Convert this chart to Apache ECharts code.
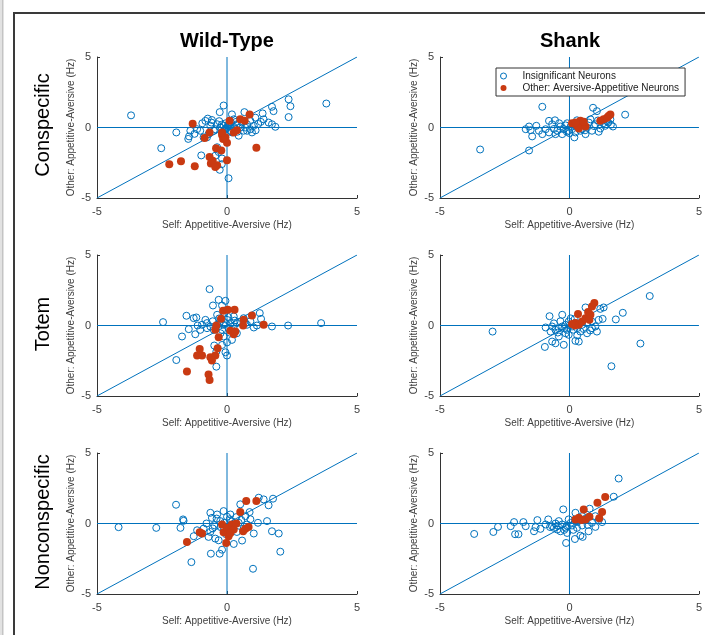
<!DOCTYPE html>
<html>
<head>
<meta charset="utf-8">
<script src="https://cdn.jsdelivr.net/npm/echarts@6/dist/echarts.min.js"></script>
<style>
html,body{margin:0;padding:0;background:#fff;}
#chart{width:705px;height:635px;}
</style>
</head>
<body>
<div id="chart"></div>
<script>
// ---------- DATA ----------
const columnTitles = ['Wild-Type', 'Shank'];
const rowTitles = ['Conspecific', 'Totem', 'Nonconspecific'];
const xAxisName = 'Self: Appetitive-Aversive (Hz)';
const yAxisName = 'Other: Appetitive-Aversive (Hz)';
const legendNames = ['Insignificant Neurons', 'Other: Aversive-Appetitive Neurons'];
const axisMin = -5, axisMax = 5, axisStep = 5;

// reference lines
const refHorizontal = [[-5, 0], [5, 0]];
const refVertical = [[0, -5], [0, 5]];
const refDiagonal = [[-5, -5], [5, 5]];

// Wild-Type, Conspecific
const wtConBlue = [[-3.69,0.86],[-2.53,-1.47],[-1.95,-0.35],[-1.49,-0.81],[-1.46,-0.63],[-1.41,-0.23],[-1.15,-0.12],[-0.99,-1.98],[-0.83,0.47],[-0.74,0.63],[-0.64,0.12],[-0.58,0.53],[-0.45,-0.12],[-0.28,1.09],[-0.13,1.56],[-0.38,-1.4],[-0.32,-1.74],[-0.19,-2.2],[-0.28,-3.0],[0.06,-3.6],[0.19,0.93],[0.26,0.58],[0.38,0.23],[0.45,-0.58],[0.67,1.09],[0.77,0.23],[0.9,0.47],[1.03,0.12],[1.09,0.7],[1.37,1.0],[1.41,0.58],[1.6,0.35],[1.73,1.47],[1.79,1.16],[1.86,0.05],[1.73,0.23],[2.37,2.0],[2.44,1.51],[2.37,0.74],[3.82,1.7],
  [-0.13,0.12],[0,0],[-0.06,-0.12],[0.06,0.23],[0.13,-0.23],[-0.19,-0.35],[0.19,-0.35],[0.32,-0.12],[0.51,0],[0.64,-0.23],[0.58,0.35],[0.77,-0.23],[0.9,-0.12],[0.96,-0.35],[-0.26,0],[-0.38,0.23],[-0.51,-0.23],[-0.71,-0.47],[-0.9,-0.7],[-1.03,-0.23],[-0.77,-0.7],[0.1,0.1],[-0.05,0.3],[0.25,0.05],[-0.2,-2.6],[-0.45,-2.0],
  [-0.6,0.35],[-0.3,0.45],[0.05,-0.3],[0.15,0.35],[0.4,-0.3],[0.7,0.0],[1.2,0.25],[1.1,-0.2],[-1.25,-0.45],[-0.95,0.3],[-0.2,0.2],[0.35,0.4],[1.3,0.4],[-0.05,-0.05],[0.05,0.1]];
const wtConRed = [[-2.22,-2.6],[-1.77,-2.4],[-1.24,-2.74],[-1.32,0.26],[-0.86,-0.74],[-0.67,-0.35],[-0.42,-1.47],[-0.22,-1.63],[-0.67,-2.09],[-0.62,-2.56],[-0.38,-2.67],[0.0,-2.33],[-0.19,-0.53],[-0.15,-0.81],[0.0,-1.09],[0.1,0.47],[0.26,-0.35],[0.38,-0.19],[0.51,0.58],[0.68,0.47],[0.87,0.93],[1.13,-1.44],[-0.06,-0.7],[-0.19,-0.35],[-0.55,-2.35],[-0.45,-2.8]];

// Shank, Conspecific
const shConBlue = [[-3.45,-1.56],[-1.56,-1.63],[-1.05,1.47],[-1.69,-0.12],[-1.56,0.07],[-1.44,-0.63],[-1.28,0.12],[-1.05,-0.47],[-0.92,-0.12],[-0.79,0.47],[-0.67,0.23],[-0.56,0.51],[-0.47,-0.23],[-0.35,0.07],[-0.22,-0.12],[-0.09,0.3],[0.1,-0.12],[0.19,-0.7],[0.29,0.51],[0.42,-0.23],[0.55,0.3],[0.68,0],[0.81,0.58],[0.91,1.4],[1.06,1.16],[1.13,-0.3],[1.26,0.47],[1.38,0.12],[1.58,0.58],[1.68,0.07],[2.15,0.91],
  [-0.79,-0.35],[-0.54,-0.47],[-0.28,-0.47],[-0.03,-0.23],[0.23,-0.35],[0.49,-0.12],[0.62,-0.47],[0.87,-0.23],[1.0,0.23],[1.19,-0.07],[-1.18,-0.23],[-1.5,-0.19],[1.5,0.35],[1.6,0.2],[0.05,0.1],[0.3,0.05],[-0.1,-0.3],[0.75,0.35],[-0.4,0.3],
  [-0.15,0.15],[0.15,0.2],[0.4,0.15],[0.95,0.1],[1.1,0.5],[1.3,0.3],[-0.6,-0.1],[0.0,-0.4],[0.6,-0.2],[1.45,0.45]];
const shConRed = [[0.1,0.3],[0.29,0.12],[0.42,0.47],[0.51,0.23],[0.36,-0.07],[0.62,0.07],[1.19,0.47],[1.32,0.58],[1.45,0.7],[1.58,0.93],[1.51,0.81],[0.23,0.35],[0.55,0.4]];

// Wild-Type, Totem
const wtTotBlue = [[-2.46,0.24],[-1.95,-2.45],[-1.73,-0.78],[-1.56,0.69],[-1.47,-0.26],[-1.28,0.52],[-1.18,0.57],[-1.13,0],[-1.22,-0.62],[-1.03,-0.31],[-0.83,0.4],[-0.77,0.17],[-0.67,2.58],[-0.32,1.82],[-0.06,1.75],[-0.54,1.42],[-0.19,1.42],[-0.38,0.76],[-0.49,-1.42],[-0.41,-1.85],[-0.06,-1.9],[0,-2.13],[-0.41,-2.92],[-0.19,-1.38],[-0.13,-0.78],[0.19,-1.02],[0.38,-0.55],[0.26,0.64],[0.64,0.52],[0.77,0.05],[1.03,-0.14],[1.15,0],[1.26,0.88],[1.31,0.47],[1.73,-0.07],[2.35,0],[3.62,0.17],
  [-0.26,0.28],[-0.13,0.05],[0.13,0.17],[0.06,-0.19],[0.26,-0.07],[0.38,0.17],[0.51,0.28],[0.71,0.17],[-0.64,-0.07],[-0.51,-0.31],[-0.38,0.05],[-0.19,-0.31],[0.19,-0.31],[-0.77,-0.19],[-0.96,0.05],[0,0.4],[-0.1,0.9],[0.1,-0.5],
  [-0.3,0.5],[0.05,0.6],[-0.05,0.15],[0.3,0.35],[-0.55,0.3],[0.9,0.3],[-0.25,-0.55],[0.0,-1.2]];
const wtTotRed = [[-1.54,-3.27],[-0.71,-3.48],[-0.67,-3.86],[-1.05,-1.66],[-1.15,-2.13],[-0.96,-2.13],[-0.64,-2.25],[-0.45,-2.13],[-0.36,-1.61],[-0.58,-2.49],[-0.15,1.04],[0.03,1.11],[0.29,1.11],[-0.23,0.47],[-0.45,-0.31],[-0.32,-0.83],[0.13,-0.38],[0.26,-0.62],[0.32,-0.43],[0.64,0.4],[0.62,0],[0.96,0.71],[1.41,0.05],[-0.41,0]];

// Shank, Totem
const shTotBlue = [[-2.97,-0.43],[-0.95,-1.52],[-0.77,0.66],[-0.92,-0.14],[-0.73,-0.43],[-0.67,-1.14],[-0.54,-1.26],[-0.41,-0.78],[-0.28,0.76],[-0.22,-1.37],[0.23,-1.09],[0.36,-1.14],[0.68,-0.55],[0.87,-0.19],[1.06,-0.43],[1.13,0.4],[1.28,0.47],[1.19,1.18],[1.32,1.28],[1.79,0.43],[2.06,0.9],[2.74,-1.28],[1.62,-2.89],[3.1,2.09],[0.62,1.28],
  [-0.15,0.05],[-0.03,0.28],[0.1,-0.07],[0.23,0.17],[-0.09,-0.31],[-0.28,-0.07],[-0.41,-0.19],[-0.54,-0.31],[-0.67,-0.07],[0.29,-0.19],[0.49,0.05],[0.68,0.17],[0.87,0.28],[1.0,-0.07],[0.42,-0.43],[-0.03,-0.66],[-0.15,-0.55],[0.05,0.5],[-0.35,0.3],[0.3,-0.7],
  [-0.2,-0.2],[0.0,0.0],[0.15,-0.3],[-0.45,-0.5],[0.55,-0.25],[0.2,0.45],[-0.6,0.15],[0.8,-0.35]];
const shTotRed = [[0.33,0.81],[0.23,0.17],[0.36,0.05],[0.49,0.28],[0.62,0.52],[0.72,0.95],[0.81,0.76],[0.87,1.35],[0.96,1.59],[0.77,0.4],[0.21,0],[0.1,0.1]];

// Wild-Type, Nonconspecific
const wtNonBlue = [[-4.17,-0.26],[-2.72,-0.31],[-1.96,1.33],[-1.79,-0.31],[-1.69,0.29],[-1.67,0.19],[-1.37,-2.74],[-1.28,-0.9],[-1.15,-0.48],[-0.79,0],[-0.71,-0.95],[-0.64,0.76],[-0.62,-2.14],[-0.58,0.4],[-0.38,0.64],[-0.28,-2.14],[-0.19,-1.86],[-0.13,0.88],[0.13,0.64],[0.26,-1.45],[0.51,1.36],[0.58,-1.21],[0.71,0.52],[0.87,0.81],[1.0,-3.21],[1.03,-0.71],[1.19,0.05],[1.22,1.83],[1.41,1.71],[1.54,0.17],[1.6,1.29],[1.73,-0.55],[1.77,1.76],[1.99,-0.71],[2.05,-2.0],
  [-0.45,-1.07],[-0.32,-1.19],[-0.64,-0.6],[-0.9,-0.36],[-0.49,-0.12],[-0.26,0.17],[0,0.48],[0.45,0.05],[0.64,-0.36],[0.77,-0.07],[0.38,-0.6],[0.26,-0.12],[-0.13,-0.48],[-0.1,0.05],[0.1,0.3],[-0.4,0.35],
  [-0.25,-0.25],[0.2,0.15],[0.55,0.25],[-0.55,-0.35],[-0.05,-0.75],[0.9,0.3],[0.35,0.45]];
const wtNonRed = [[-1.54,-1.31],[-1.05,-0.62],[-0.96,-0.71],[-0.03,-1.38],[-0.19,-0.07],[-0.13,-0.62],[0,-0.31],[0.06,-0.9],[0.19,-0.07],[0.26,-0.43],[0.36,0],[0.51,0.81],[0.62,-0.55],[0.74,1.6],[1.13,1.6],[0.71,-0.38],[0.83,-0.24],[0.13,-0.67]];

// Shank, Nonconspecific
const shNonBlue = [[-3.68,-0.74],[-2.94,-0.6],[-2.76,-0.24],[-2.27,-0.19],[-2.14,0.1],[-2.1,-0.76],[-1.97,-0.76],[-1.78,0.1],[-1.69,-0.19],[-1.37,-0.55],[-1.31,-0.26],[-1.24,0.24],[-1.12,-0.38],[-0.82,0.29],[-0.67,-0.19],[-0.47,-0.43],[-0.24,1.0],[-0.13,-1.38],[-0.09,-0.67],[0.21,-1.1],[0.42,-0.86],[0.51,-0.95],[0.74,-0.55],[0.78,1.05],[1.0,-0.24],[1.13,0.24],[1.26,0.1],[1.71,1.9],[1.9,3.19],
  [0.23,0.76],[0.49,0.52],[0.62,0.24],[-0.41,0.17],[-0.28,-0.07],[-0.15,-0.31],[-0.54,0],[-0.03,0.29],[0.1,-0.14],[0.29,-0.31],[0.49,-0.14],[0.87,0.05],[1.0,0.52],[-0.92,-0.07],[-0.6,-0.31],[-0.35,-0.55],[0.05,0.05],[-0.1,-0.15],[0.3,0.1],
  [-0.2,-0.45],[0.15,-0.45],[0.35,0.3],[-0.45,-0.15],[0.7,-0.1],[-0.75,-0.25]];
const shNonRed = [[0.23,0.29],[0.36,0.4],[0.55,1.0],[0.62,0.29],[0.77,0.48],[1.08,1.48],[1.15,0.38],[1.26,0.81],[1.38,1.88],[0.46,0.24]];

const panels = [
  [wtConBlue, wtConRed], [shConBlue, shConRed],
  [wtTotBlue, wtTotRed], [shTotBlue, shTotRed],
  [wtNonBlue, wtNonRed], [shNonBlue, shNonRed]
];

// ---------- LAYOUT / STYLE ----------
const FONT = 'Liberation Sans, Arial, Helvetica, sans-serif';
const BLUE = '#0072BD';
const RED = '#C93A12';
const AXIS = '#333333';
const TXT = '#404040';
const colLeft = [97, 440], colWidth = [260, 261];
const rowTop = [57, 255, 453], rowHeight = 141;

const grids = [], xAxes = [], yAxes = [], series = [];
panels.forEach((p, i) => {
  const r = Math.floor(i / 2), c = i % 2;
  grids.push({left: colLeft[c], top: rowTop[r], width: colWidth[c], height: rowHeight, containLabel: false});
  const common = {
    gridIndex: i, type: 'value', min: axisMin, max: axisMax, interval: axisStep,
    nameLocation: 'middle',
    nameTextStyle: {fontFamily: FONT, fontSize: 10, color: TXT},
    axisLine: {show: true, onZero: false, lineStyle: {color: AXIS, width: 1}},
    axisTick: {show: true, inside: true, length: 3, lineStyle: {color: AXIS}},
    axisLabel: {fontFamily: FONT, fontSize: 11, color: TXT},
    splitLine: {show: false}
  };
  xAxes.push(Object.assign({}, common, {name: xAxisName, nameGap: 22,
    axisLabel: Object.assign({}, common.axisLabel, {margin: 8})}));
  yAxes.push(Object.assign({}, common, {name: yAxisName, nameGap: 21,
    axisLabel: Object.assign({}, common.axisLabel, {margin: 6})}));
  [refHorizontal, refVertical, refDiagonal].forEach(ref => {
    series.push({type: 'line', xAxisIndex: i, yAxisIndex: i, data: ref, symbol: 'none', silent: true,
      lineStyle: {color: BLUE, width: 1}, z: 1, animation: false});
  });
  series.push({type: 'scatter', name: legendNames[0], xAxisIndex: i, yAxisIndex: i, data: p[0],
    symbol: 'circle', symbolSize: 7,
    itemStyle: {color: 'rgba(255,255,255,0)', borderColor: BLUE, borderWidth: 1, opacity: 1},
    z: 2, animation: false});
  series.push({type: 'scatter', name: legendNames[1], xAxisIndex: i, yAxisIndex: i, data: p[1],
    symbol: 'circle', symbolSize: 8,
    itemStyle: {color: RED, opacity: 1},
    z: 3, animation: false});
});

const textGraphics = [];
const colCenters = [227, 570];
columnTitles.forEach((t, c) => textGraphics.push({type: 'text', x: colCenters[c], y: 41,
  style: {text: t, fontFamily: FONT, fontSize: 20, fontWeight: 'bold', fill: '#000', textAlign: 'center', textVerticalAlign: 'middle'}}));
const rowCenters = [125, 324, 522];
rowTitles.forEach((t, r) => textGraphics.push({type: 'text', x: 43, y: rowCenters[r], rotation: Math.PI / 2,
  style: {text: t, fontFamily: FONT, fontSize: 20, fill: '#000', textAlign: 'center', textVerticalAlign: 'middle'}}));

const frame = [
  {type: 'rect', shape: {x: 0, y: 0, width: 4, height: 635}, style: {fill: '#e2e2e2'}, silent: true},
  {type: 'rect', shape: {x: 2, y: 0, width: 1, height: 635}, style: {fill: '#c4c4c4'}, silent: true},
  {type: 'line', shape: {x1: 13, y1: 13, x2: 705, y2: 13}, style: {stroke: '#3a3a3a', lineWidth: 2}, silent: true},
  {type: 'line', shape: {x1: 14, y1: 12, x2: 14, y2: 635}, style: {stroke: '#3a3a3a', lineWidth: 2}, silent: true}
];

const chart = echarts.init(document.getElementById('chart'), null, {renderer: 'canvas'});
chart.setOption({
  backgroundColor: '#ffffff',
  animation: false,
  grid: grids,
  xAxis: xAxes,
  yAxis: yAxes,
  legend: {
    data: [
      {name: legendNames[0], icon: 'circle', itemStyle: {color: '#ffffff', borderColor: BLUE, borderWidth: 1}},
      {name: legendNames[1], icon: 'circle', itemStyle: {color: RED, borderWidth: 0}}
    ],
    left: 496, top: 68,
    orient: 'vertical',
    padding: [3, 6, 3, 4],
    itemGap: 2,
    itemWidth: 28, itemHeight: 6,
    backgroundColor: '#fff',
    borderColor: '#333', borderWidth: 1,
    selectedMode: false,
    textStyle: {fontFamily: FONT, fontSize: 10, color: '#222'}
  },
  graphic: frame.concat(textGraphics),
  series: series
});
</script>
</body>
</html>
